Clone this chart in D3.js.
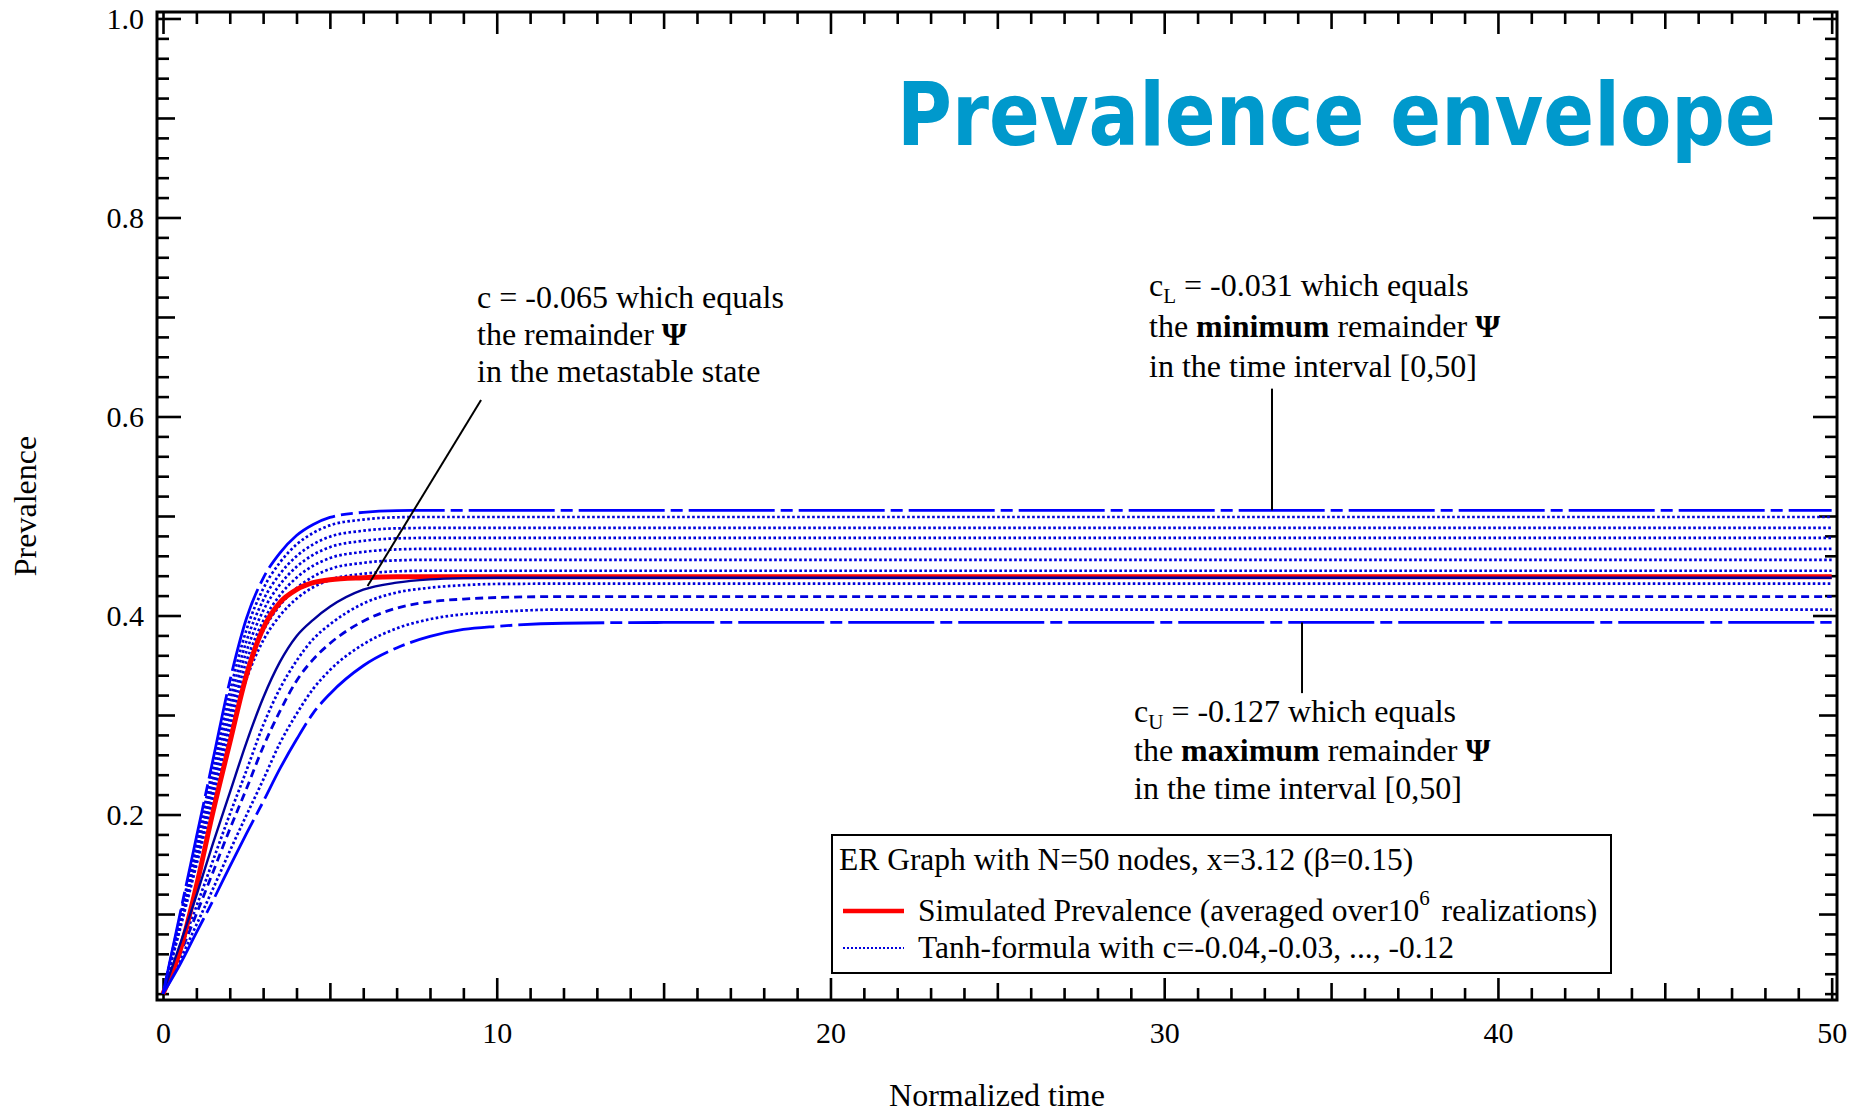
<!DOCTYPE html>
<html>
<head>
<meta charset="utf-8">
<script src="https://cdn.jsdelivr.net/npm/d3@7"></script>
<style>
  body { margin: 0; background: #fff; }
  svg { display: block; }
</style>
</head>
<body>
<script>
// time grid shared by all curves (normalized time)
var tGrid = [0, 0.5, 1, 1.5, 2, 2.5, 3, 3.5, 4, 4.5, 5, 6, 7, 8, 9, 10, 12, 15, 20, 30, 40, 50];

// envelopes c_L = -0.031 (upper) and c_U = -0.127 (lower)
var upperEnvelope = [0.02, 0.0986, 0.177, 0.2554, 0.3338, 0.397, 0.4374, 0.4627, 0.4804, 0.4915, 0.4986, 0.5037, 0.5055, 0.5057, 0.5057, 0.5057, 0.5057, 0.5057, 0.5057, 0.5057, 0.5057, 0.5057];
var lowerEnvelope = [0.02, 0.0488, 0.0814, 0.1137, 0.1477, 0.1809, 0.2128, 0.2458, 0.2753, 0.3019, 0.3212, 0.3495, 0.3674, 0.379, 0.386, 0.3891, 0.3922, 0.393, 0.393, 0.393, 0.393, 0.393];

// tanh-formula curves (dotted), top to bottom
var tanh1 = [0.02, 0.0958, 0.1715, 0.2475, 0.323, 0.3855, 0.4268, 0.4531, 0.4713, 0.483, 0.4906, 0.4964, 0.4987, 0.499, 0.499, 0.499, 0.499, 0.499, 0.499, 0.499, 0.499, 0.499];
var tanh2 = [0.02, 0.0929, 0.1663, 0.24, 0.313, 0.3742, 0.4153, 0.4416, 0.4596, 0.4715, 0.4792, 0.4852, 0.4876, 0.488, 0.488, 0.488, 0.488, 0.488, 0.488, 0.488, 0.488, 0.488];
var tanh3 = [0.02, 0.0903, 0.1616, 0.2331, 0.3037, 0.3638, 0.4047, 0.4309, 0.4489, 0.461, 0.4687, 0.475, 0.4775, 0.478, 0.478, 0.478, 0.478, 0.478, 0.478, 0.478, 0.478, 0.478];
var tanh4 = [0.02, 0.0881, 0.157, 0.2268, 0.2954, 0.354, 0.3943, 0.4203, 0.438, 0.45, 0.4577, 0.4639, 0.4664, 0.467, 0.467, 0.467, 0.467, 0.467, 0.467, 0.467, 0.467, 0.467];
var tanh5 = [0.02, 0.0857, 0.1529, 0.2209, 0.2876, 0.3449, 0.3844, 0.41, 0.4274, 0.4391, 0.4467, 0.4529, 0.4554, 0.456, 0.456, 0.456, 0.456, 0.456, 0.456, 0.456, 0.456, 0.456];
var tanh6 = [0.02, 0.0836, 0.1489, 0.2152, 0.2802, 0.3361, 0.3747, 0.3997, 0.4168, 0.4284, 0.4358, 0.4419, 0.4444, 0.445, 0.445, 0.445, 0.445, 0.445, 0.445, 0.445, 0.445, 0.445];
var tanh7 = [0.02, 0.0629, 0.1076, 0.154, 0.2001, 0.2442, 0.2896, 0.3263, 0.3544, 0.3763, 0.391, 0.412, 0.4231, 0.4279, 0.4305, 0.4317, 0.432, 0.432, 0.432, 0.432, 0.432, 0.432];
var tanhDash = [0.02, 0.0588, 0.0999, 0.1423, 0.1852, 0.2258, 0.2679, 0.3036, 0.3343, 0.3559, 0.3719, 0.3943, 0.4074, 0.4138, 0.4165, 0.4181, 0.419, 0.419, 0.419, 0.419, 0.419, 0.419];
var tanh8 = [0.02, 0.053, 0.0891, 0.1255, 0.1632, 0.1993, 0.2348, 0.2715, 0.301, 0.3263, 0.3451, 0.371, 0.387, 0.3963, 0.4013, 0.4036, 0.406, 0.406, 0.406, 0.406, 0.406, 0.406];

// c = -0.065 (solid) and the simulation (red)
var tanhMeta = [0.02, 0.0687, 0.1185, 0.1713, 0.2217, 0.2723, 0.3171, 0.3531, 0.3792, 0.3957, 0.4087, 0.4259, 0.433, 0.4363, 0.4376, 0.438, 0.438, 0.438, 0.438, 0.438, 0.438, 0.438];
var simulated = [0.02, 0.062, 0.128, 0.203, 0.272, 0.34, 0.387, 0.413, 0.426, 0.433, 0.436, 0.438, 0.439, 0.439, 0.439, 0.439, 0.439, 0.439, 0.439, 0.439, 0.439, 0.439];

// ticks
var xMajorTicks = [0, 10, 20, 30, 40, 50];
var xMidTicks = [5, 15, 25, 35, 45];
var yMajorTicks = [0.2, 0.4, 0.6, 0.8, 1.0];
var yMidTicks = [0.1, 0.3, 0.5, 0.7, 0.9];

var width = 1860;
var height = 1113;
var serif = "'Liberation Serif', 'Times New Roman', serif";

var svg = d3.select("body").append("svg")
    .attr("width", width)
    .attr("height", height);

svg.append("rect")
    .attr("width", width)
    .attr("height", height)
    .attr("fill", "#fff");

var x = d3.scaleLinear().domain([-0.18, 50.16]).range([157, 1837]);
var y = d3.scaleLinear().domain([0.0136, 1.0065]).range([1000, 12]);

var xMinorTicks = d3.range(1, 50).filter(function (d) { return d % 5 !== 0; });
var yMinorTicks = d3.range(1, 51).map(function (d) { return d / 50; })
    .filter(function (d) { return Math.round(d * 50) % 5 !== 0; });

// axes: ticks point inward on all four sides
function styleAxis(g) {
    g.select(".domain").remove();
    g.selectAll(".tick line").attr("stroke", "#000").attr("stroke-width", 2.6);
    g.attr("font-family", serif).attr("font-size", 30);
    g.selectAll(".tick text").attr("fill", "#000");
}

function addTicks(axisFn, scale, values, size, transform, fmt, pad) {
    svg.append("g")
        .attr("transform", transform)
        .call(axisFn(scale).tickValues(values).tickSize(-size).tickPadding(pad || 0)
            .tickFormat(fmt || ""))
        .call(styleAxis);
}

addTicks(d3.axisBottom, x, xMajorTicks, 22, "translate(0,1000)", d3.format("d"), 22);
addTicks(d3.axisBottom, x, xMidTicks, 17, "translate(0,1000)");
addTicks(d3.axisBottom, x, xMinorTicks, 12, "translate(0,1000)");
addTicks(d3.axisTop, x, xMajorTicks, 22, "translate(0,12)");
addTicks(d3.axisTop, x, xMidTicks, 17, "translate(0,12)");
addTicks(d3.axisTop, x, xMinorTicks, 12, "translate(0,12)");

addTicks(d3.axisLeft, y, yMajorTicks, 24, "translate(157,0)", d3.format(".1f"), 13);
addTicks(d3.axisLeft, y, yMidTicks, 18, "translate(157,0)");
addTicks(d3.axisLeft, y, yMinorTicks, 12, "translate(157,0)");
addTicks(d3.axisRight, y, yMajorTicks, 24, "translate(1837,0)");
addTicks(d3.axisRight, y, yMidTicks, 18, "translate(1837,0)");
addTicks(d3.axisRight, y, yMinorTicks, 12, "translate(1837,0)");

// curves
var line = d3.line()
    .x(function (d, i) { return x(tGrid[i]); })
    .y(function (d) { return y(d); })
    .curve(d3.curveMonotoneX);

var dotted = { color: "#0000dd", width: 2.7, dash: "2.6,2.4" };
var series = [
    { values: tanh1, style: dotted },
    { values: tanh2, style: dotted },
    { values: tanh3, style: dotted },
    { values: tanh4, style: dotted },
    { values: tanh5, style: dotted },
    { values: tanh6, style: dotted },
    { values: tanh7, style: dotted },
    { values: tanh8, style: dotted },
    { values: tanhDash, style: { color: "#0000dd", width: 2.8, dash: "8,5" } },
    { values: simulated, style: { color: "#ff0000", width: 5, dash: null } },
    { values: tanhMeta, style: { color: "#00009a", width: 2.4, dash: null } },
    { values: upperEnvelope, style: { color: "#0000ff", width: 2.8, dash: "86,6,12,6" } },
    { values: lowerEnvelope, style: { color: "#0000ff", width: 2.8, dash: "86,6,12,6" } }
];

svg.append("g").selectAll("path")
    .data(series)
    .enter().append("path")
    .attr("d", function (d) { return line(d.values); })
    .attr("fill", "none")
    .attr("stroke", function (d) { return d.style.color; })
    .attr("stroke-width", function (d) { return d.style.width; })
    .attr("stroke-dasharray", function (d) { return d.style.dash; });

// frame
svg.append("rect")
    .attr("x", x.range()[0])
    .attr("y", y.range()[1])
    .attr("width", x.range()[1] - x.range()[0])
    .attr("height", y.range()[0] - y.range()[1])
    .attr("fill", "none")
    .attr("stroke", "#000")
    .attr("stroke-width", 3);

// axis titles
svg.append("text")
    .attr("x", 997).attr("y", 1106)
    .attr("text-anchor", "middle")
    .attr("font-family", serif).attr("font-size", 32)
    .text("Normalized time");

svg.append("text")
    .attr("transform", "translate(36,506) rotate(-90)")
    .attr("text-anchor", "middle")
    .attr("font-family", serif).attr("font-size", 32)
    .text("Prevalence");

// title, squeezed horizontally to the reference width
var title = svg.append("text")
    .attr("font-family", "'DejaVu Sans', Verdana, sans-serif")
    .attr("font-weight", "bold")
    .attr("font-size", 87)
    .attr("fill", "#0099cc")
    .text("Prevalence envelope");
var titleScale = 879 / title.node().getComputedTextLength();
title.attr("transform", "translate(897,145) scale(" + titleScale + ",1)");

// leader lines (data coordinates)
var leaders = [
    [[9.53, 0.6166], [6.13, 0.4296]],
    [[33.23, 0.628], [33.23, 0.5057]],
    [[34.13, 0.393], [34.13, 0.322]]
];
svg.append("g").selectAll("line")
    .data(leaders)
    .enter().append("line")
    .attr("x1", function (d) { return x(d[0][0]); })
    .attr("y1", function (d) { return y(d[0][1]); })
    .attr("x2", function (d) { return x(d[1][0]); })
    .attr("y2", function (d) { return y(d[1][1]); })
    .attr("stroke", "#000")
    .attr("stroke-width", 2);

// annotation text blocks: each line is a list of [text, style]
function textBlock(x0, baselines, lines) {
    var g = svg.append("g")
        .attr("font-family", serif)
        .attr("font-size", 32)
        .attr("fill", "#000");
    lines.forEach(function (parts, i) {
        var t = g.append("text").attr("x", x0).attr("y", baselines[i]).attr("xml:space", "preserve");
        parts.forEach(function (p) {
            var s = t.append("tspan").text(p[0]);
            if (p[1] === "b") s.attr("font-weight", "bold");
            if (p[1] === "sub") s.attr("font-size", 21).attr("dy", 7);
            if (p[1] === "unsub") s.attr("dy", -7);
        });
    });
}

textBlock(477, [308, 345, 382], [
    [["c = -0.065 which equals"]],
    [["the remainder "], ["\u03A8", "b"]],
    [["in the metastable state"]]
]);

textBlock(1149, [296, 337, 377], [
    [["c"], ["L", "sub"], [" = -0.031 which equals", "unsub"]],
    [["the "], ["minimum", "b"], [" remainder "], ["\u03A8", "b"]],
    [["in the time interval [0,50]"]]
]);

textBlock(1134, [722, 761, 799], [
    [["c"], ["U", "sub"], [" = -0.127 which equals", "unsub"]],
    [["the "], ["maximum", "b"], [" remainder "], ["\u03A8", "b"]],
    [["in the time interval [0,50]"]]
]);

// legend
var legend = svg.append("g")
    .attr("font-family", serif)
    .attr("font-size", 31.5);

legend.append("rect")
    .attr("x", 832).attr("y", 835)
    .attr("width", 779).attr("height", 138)
    .attr("fill", "#fff")
    .attr("stroke", "#000")
    .attr("stroke-width", 2);

legend.append("text")
    .attr("x", 839).attr("y", 870)
    .text("ER Graph with N=50 nodes, x=3.12 (\u03B2=0.15)");

legend.append("line")
    .attr("x1", 843).attr("x2", 904)
    .attr("y1", 911).attr("y2", 911)
    .attr("stroke", "#ff0000").attr("stroke-width", 4.5);

var simText = legend.append("text").attr("x", 918).attr("y", 921);
simText.append("tspan").text("Simulated Prevalence (averaged over10");
simText.append("tspan").attr("font-size", 21).attr("dy", -16).text("6");
simText.append("tspan").attr("dy", 16).attr("dx", 4).text(" realizations)");

legend.append("line")
    .attr("x1", 843).attr("x2", 904)
    .attr("y1", 948).attr("y2", 948)
    .attr("stroke", "#0000dd").attr("stroke-width", 1.8)
    .attr("stroke-dasharray", "2,2");

legend.append("text")
    .attr("x", 918).attr("y", 958)
    .text("Tanh-formula with c=-0.04,-0.03, ..., -0.12");
</script>
</body>
</html>
